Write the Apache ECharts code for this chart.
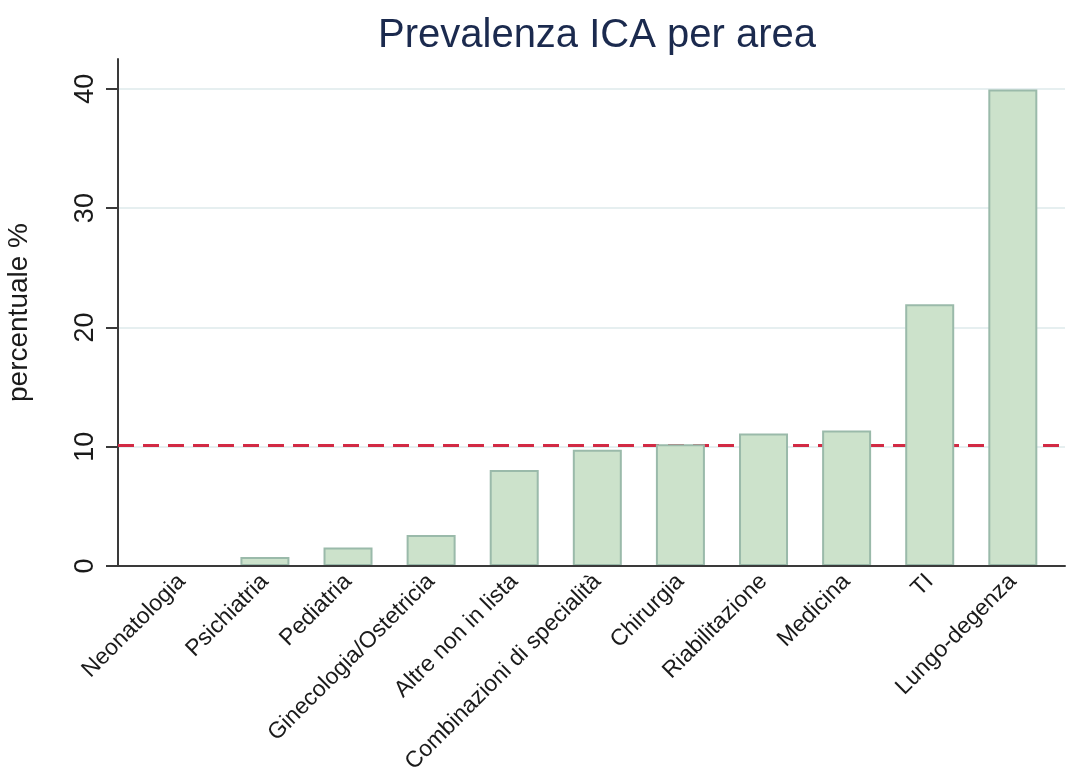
<!DOCTYPE html>
<html>
<head>
<meta charset="utf-8">
<title>Prevalenza ICA per area</title>
<script src="https://cdn.jsdelivr.net/npm/echarts@6/dist/echarts.min.js"></script>
<style>
  html, body { margin: 0; padding: 0; background: #fff; }
  #main { width: 1068px; height: 769px; }
</style>
</head>
<body>
<div id="main"></div>
<script>
// categorie (aree) e prevalenza %
var categories = ["Neonatologia", "Psichiatria", "Pediatria", "Ginecologia/Ostetricia",
  "Altre non in lista", "Combinazioni di specialità", "Chirurgia", "Riabilitazione",
  "Medicina", "TI", "Lungo-degenza"]
var prevalenza = [0, 0.75, 1.55, 2.6, 8.05, 9.75, 10.2, 11.1, 11.35, 21.95, 39.95]
var mediaTotale = 10.15
var yTicks = [0, 10, 20, 30, 40]

var font = "'Liberation Sans', Arial, sans-serif"
var barData = prevalenza.map(function (v, i) { return [i, v] })

var myChart = echarts.init(document.getElementById("main"))
var option = {
  animation: false,
  title: {
    text: "Prevalenza ICA per area",
    left: 373,
    top: 11,
    textStyle: { fontFamily: font, fontSize: 40, fontWeight: "normal", color: "#1b2a4e" }
  },
  grid: { left: 118, right: 3, top: 59, bottom: 203, outerBoundsMode: "none", containLabel: false },
  xAxis: {
    type: "value",
    z: 5,
    min: -0.768,
    max: 10.628,
    axisLine: { show: true, lineStyle: { color: "#3a3a3a", width: 2 } },
    axisTick: { show: false },
    splitLine: { show: false },
    axisLabel: {
      customValues: categories.map(function (c, i) { return i }),
      formatter: function (v) { return categories[v] },
      rotate: 45,
      margin: 12,
      fontFamily: font,
      fontSize: 23,
      color: "#1a1a1a"
    }
  },
  yAxis: {
    type: "value",
    min: 0,
    max: 42.5,
    interval: 10,
    name: "percentuale %",
    nameLocation: "middle",
    nameGap: 85,
    nameTextStyle: { fontFamily: font, fontSize: 28, color: "#1a1a1a" },
    axisLine: { show: true, onZero: false, lineStyle: { color: "#3a3a3a", width: 2 } },
    axisTick: { show: true, length: 12, customValues: yTicks, lineStyle: { color: "#3a3a3a", width: 2 } },
    axisLabel: {
      customValues: yTicks,
      rotate: 90,
      margin: 19,
      fontFamily: font,
      fontSize: 27,
      color: "#1a1a1a"
    },
    splitLine: {
      show: true,
      showMinLine: false,
      showMaxLine: true,
      lineStyle: { color: "#e6eff0", width: 2 }
    }
  },
  series: [
    {
      type: "bar",
      z: 3,
      data: barData,
      barWidth: 49,
      itemStyle: { color: "#cce2cb", borderColor: "#9abaaa", borderWidth: 2 },
      markLine: {
        silent: true,
        z: 1,
        symbol: "none",
        label: { show: false },
        lineStyle: { color: "#d22a44", width: 3, type: [16, 9] },
        data: [{ yAxis: mediaTotale }]
      }
    }
  ]
}
myChart.setOption(option)
</script>
</body>
</html>
